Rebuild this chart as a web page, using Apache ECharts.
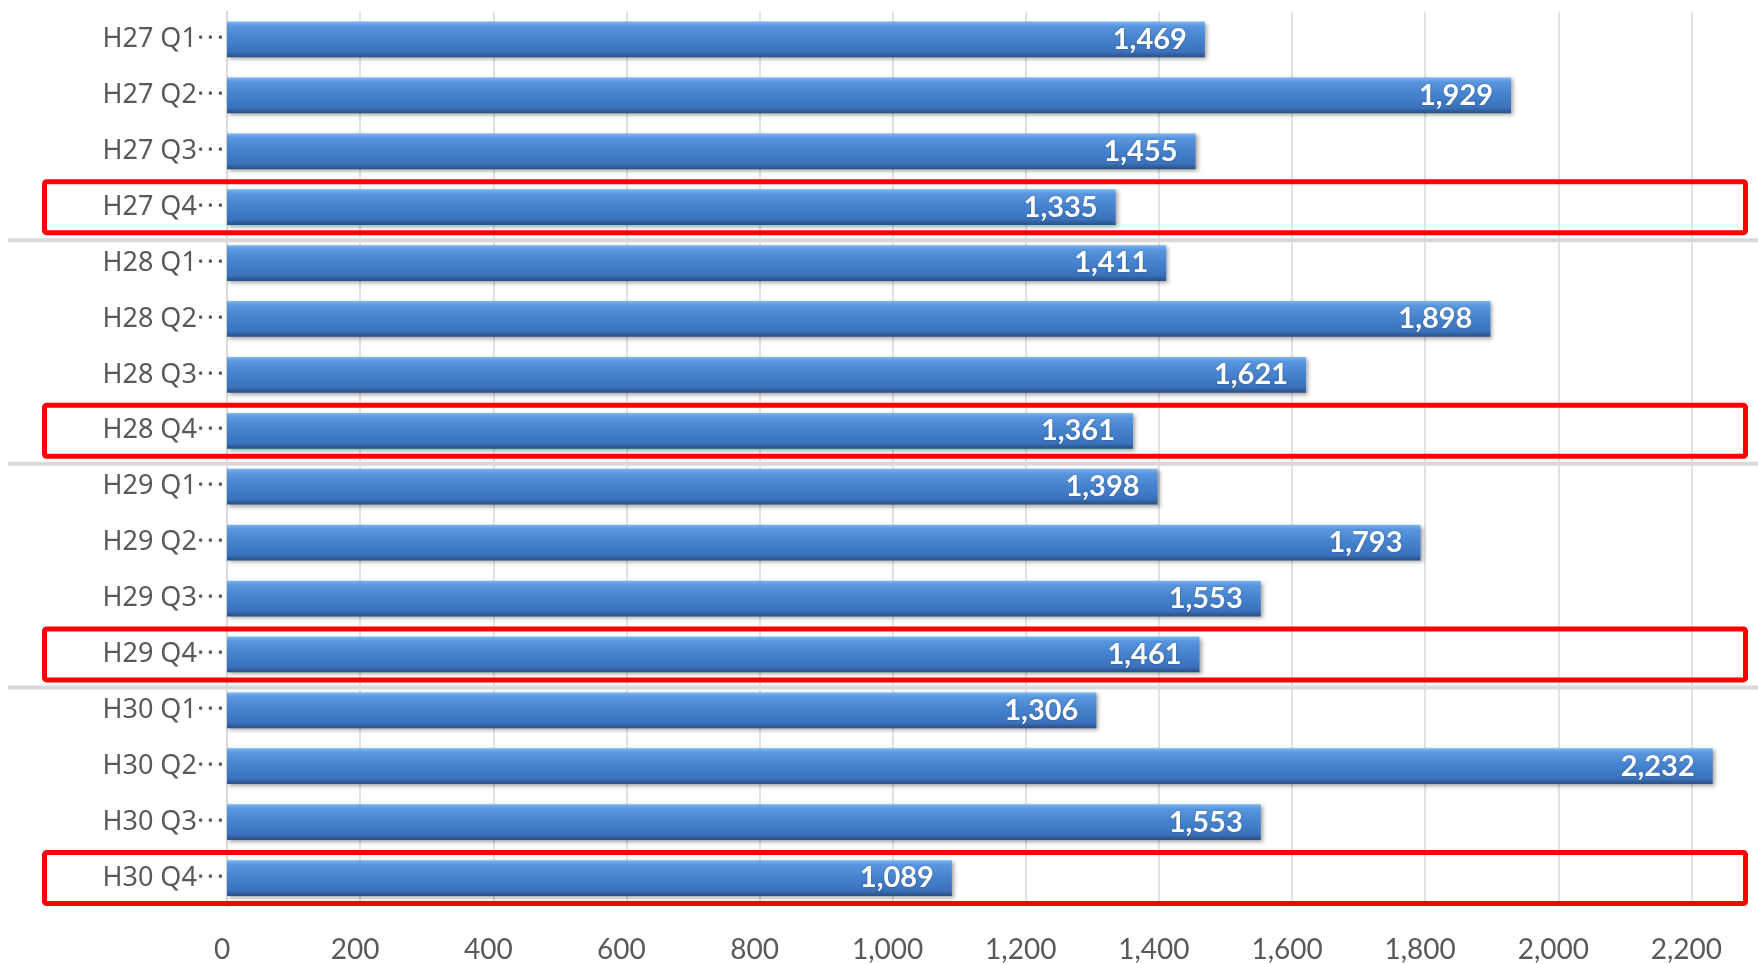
<!DOCTYPE html>
<html>
<head>
<meta charset="utf-8">
<script src="https://cdn.jsdelivr.net/npm/echarts@6/dist/echarts.min.js"></script>
<style>
  html, body { margin: 0; padding: 0; background: #fff; }
  #chart { width: 1758px; height: 964px; }
</style>
</head>
<body>
<div id="chart"></div>
<script>
// categories, top to bottom (truncated labels as in the source)
var categories = [
  'H27 Q1·\u200A·\u200A·', 'H27 Q2·\u200A·\u200A·', 'H27 Q3·\u200A·\u200A·', 'H27 Q4·\u200A·\u200A·',
  'H28 Q1·\u200A·\u200A·', 'H28 Q2·\u200A·\u200A·', 'H28 Q3·\u200A·\u200A·', 'H28 Q4·\u200A·\u200A·',
  'H29 Q1·\u200A·\u200A·', 'H29 Q2·\u200A·\u200A·', 'H29 Q3·\u200A·\u200A·', 'H29 Q4·\u200A·\u200A·',
  'H30 Q1·\u200A·\u200A·', 'H30 Q2·\u200A·\u200A·', 'H30 Q3·\u200A·\u200A·', 'H30 Q4·\u200A·\u200A·'
];
var values = [
  1469, 1929, 1455, 1335,
  1411, 1898, 1621, 1361,
  1398, 1793, 1553, 1461,
  1306, 2232, 1553, 1089
];
// rows framed in red (indexes), and rows followed by a year separator
var highlighted = [3, 7, 11, 15];
var separatedAfter = [3, 7, 11];

var chart = echarts.init(document.getElementById('chart'));

// red frame round a category row, reaching into the label area
function boxItem(params, api) {
  var c = api.coord([0, api.value(1)]);
  var h = api.size([0, 1])[1];
  var cs = params.coordSys;
  return {
    type: 'rect',
    shape: { x: cs.x - 182.5, y: c[1] - h / 2 + 2.5, width: cs.width + 170, height: h - 5, r: 2 },
    style: { fill: 'none', stroke: '#ff0000', lineWidth: 5 }
  };
}

// gray rule between years
function sepItem(params, api) {
  var c = api.coord([0, api.value(1)]);
  var h = api.size([0, 1])[1];
  var cs = params.coordSys;
  var y = c[1] + h / 2 + 5;
  return {
    type: 'line',
    shape: { x1: 8, y1: y, x2: cs.x + cs.width + 10, y2: y },
    style: { stroke: '#d9d9d9', lineWidth: 4 }
  };
}

chart.setOption({
  animation: false,
  grid: { left: 227, top: 11.5, bottom: 53, width: 1533 },
  xAxis: {
    type: 'value',
    min: 0,
    max: 2300,
    interval: 200,
    axisLine: { show: false },
    axisTick: { show: false },
    splitLine: { show: true, showMaxLine: false, lineStyle: { color: '#d9d9d9', width: 1.5 } },
    axisLabel: {
      showMaxLabel: false,
      color: '#595959',
      fontFamily: 'Lato',
      fontSize: 28,
      margin: 30,
      padding: [0, 10, 0, 0],
      formatter: function (v) { return v.toLocaleString('en-US'); }
    }
  },
  yAxis: {
    type: 'category',
    inverse: true,
    data: categories,
    axisLine: { show: true, lineStyle: { color: '#d9d9d9', width: 2 } },
    axisTick: { show: false },
    axisLabel: {
      color: '#595959',
      fontFamily: '"Noto Sans"',
      fontSize: 27,
      margin: 3
    }
  },
  series: [
    {
      type: 'bar',
      data: values,
      barWidth: '64%',
      itemStyle: {
        color: new echarts.graphic.LinearGradient(0, 0, 0, 1, [
          { offset: 0, color: '#7bb6f2' },
          { offset: 0.12, color: '#5a97e0' },
          { offset: 0.45, color: '#4784d0' },
          { offset: 0.85, color: '#3b71ba' },
          { offset: 0.93, color: '#2f5e9c' },
          { offset: 1, color: '#2a5088' }
        ]),
        shadowColor: 'rgba(0,0,0,0.35)',
        shadowBlur: 4,
        shadowOffsetX: 2,
        shadowOffsetY: 2
      },
      label: {
        show: true,
        position: 'insideRight',
        distance: 18,
        color: '#ffffff',
        fontFamily: 'Lato',
        fontWeight: 'bold',
        fontSize: 29,
        textShadowColor: 'rgba(0,0,0,0.35)',
        textShadowBlur: 2,
        formatter: function (p) { return p.value.toLocaleString('en-US'); }
      }
    },
    {
      type: 'custom',
      clip: false,
      silent: true,
      renderItem: sepItem,
      encode: { x: 0, y: 1 },
      data: separatedAfter.map(function (i) { return [0, i]; }),
      z: 1
    },
    {
      type: 'custom',
      clip: false,
      silent: true,
      renderItem: boxItem,
      encode: { x: 0, y: 1 },
      data: highlighted.map(function (i) { return [0, i]; }),
      z: 5
    }
  ]
});
</script>
</body>
</html>
